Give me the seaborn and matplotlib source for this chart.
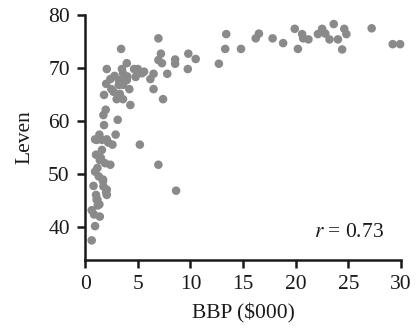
import matplotlib
matplotlib.use("Agg")
import matplotlib.pyplot as plt
import seaborn as sns
import pandas as pd

bbp = [14.8, 16.2, 16.5, 17.8, 18.8, 19.9, 20.2, 20.6, 20.7, 21.2, 22.1, 22.5, 22.8, 23.2,
       23.6, 24.0, 24.4, 24.6, 24.8, 27.2, 29.2, 29.9,
       6.96, 3.42, 13.4, 13.3, 12.7, 9.8, 10.5, 9.75, 8.55, 8.55, 7.8, 7.2, 6.96, 7.3,
       6.5, 6.2, 6.5, 7.4, 5.4, 5.0, 4.65, 3.96, 3.5, 3.6, 2.06, 2.4, 2.0, 2.5, 1.8,
       3.2, 3.5, 3.96, 3.2, 3.6, 4.2, 3.3, 3.0, 3.6, 4.3, 1.96, 1.74, 3.1, 1.8, 1.36,
       2.9, 0.95, 2.06,
       1.1, 1.6, 2.2, 2.6, 5.2, 1.6, 1.04, 1.4, 1.9, 2.4, 6.96, 0.95, 1.17, 1.7, 0.8,
       1.74, 2.06, 8.64, 2.06, 1.04, 1.17, 1.36, 0.63, 0.85, 1.4, 0.95, 0.63,
       1.7, 2.0, 1.1, 1.3, 1.5, 1.2, 2.8, 4.8, 5.6, 4.0, 2.7]
leven = [73.6, 75.6, 76.5, 75.6, 74.7, 77.4, 73.6, 76.4, 75.6, 75.4, 76.4, 77.4, 76.5, 75.4,
         78.3, 75.4, 73.5, 77.4, 76.4, 77.5, 74.5, 74.5,
         75.6, 73.6, 76.4, 73.6, 70.8, 72.7, 71.7, 69.8, 71.6, 70.8, 68.9, 72.7, 71.5, 70.9,
         68.9, 67.9, 66.0, 64.1, 69.0, 69.8, 69.8, 70.9, 69.8, 69.0, 69.8, 67.9, 67.0, 66.0, 64.9,
         67.7, 67.7, 67.7, 66.8, 66.8, 66.0, 65.1, 64.1, 64.1, 63.0, 62.1, 61.1, 60.2, 59.2, 57.4,
         57.4, 56.5, 56.5,
         56.4, 56.4, 55.9, 55.5, 55.5, 54.5, 53.6, 52.6, 52.0, 51.7, 51.7, 50.4, 51.1, 48.9, 47.7,
         47.6, 47.0, 46.8, 46.0, 46.0, 45.1, 44.2, 43.1, 42.3, 41.9, 40.1, 37.4,
         48.6, 46.5, 45.1, 49.5, 53.0, 44.0, 68.5, 68.3, 69.3, 68.4, 65.5]

x_ticks = [0, 5, 10, 15, 20, 25, 30]
y_ticks = [40, 50, 60, 70, 80]
x_label = "BBP (\\$000)"
y_label = "Leven"
r_text = "$r$ = 0.73"

df = pd.DataFrame({"bbp": bbp, "leven": leven})

sns.set_theme(style="ticks")
plt.rcParams["font.family"] = ["Liberation Serif", "DejaVu Serif"]
plt.rcParams["mathtext.fontset"] = "stix"

fig = plt.figure(figsize=(4.17, 3.35), dpi=100)
ax = fig.add_axes([0.204, 0.224, 0.758, 0.731])
sns.scatterplot(data=df, x="bbp", y="leven", ax=ax, color="#8a8a8a", s=38,
                edgecolor="none", linewidth=0, legend=False, clip_on=False)

ax.set_xlim(0, 30)
ax.set_ylim(33.7, 80)
ax.set_xticks(x_ticks)
ax.set_yticks(y_ticks)
ax.set_xlabel(x_label, fontsize=15.5, color="#1a1a1a", labelpad=7)
ax.set_ylabel(y_label, fontsize=15.5, color="#1a1a1a", labelpad=10)
ax.tick_params(axis="both", labelsize=15.5, length=6, width=1.8, color="#1a1a1a",
               labelcolor="#1a1a1a", direction="out", pad=5)
for side in ["top", "right"]:
    ax.spines[side].set_visible(False)
for side in ["left", "bottom"]:
    ax.spines[side].set_linewidth(1.8)
    ax.spines[side].set_color("#1a1a1a")

ax.text(28.4, 38.8, r_text, ha="right", va="center", fontsize=15.5, color="#1a1a1a")

fig.savefig("out.png", dpi=100)
